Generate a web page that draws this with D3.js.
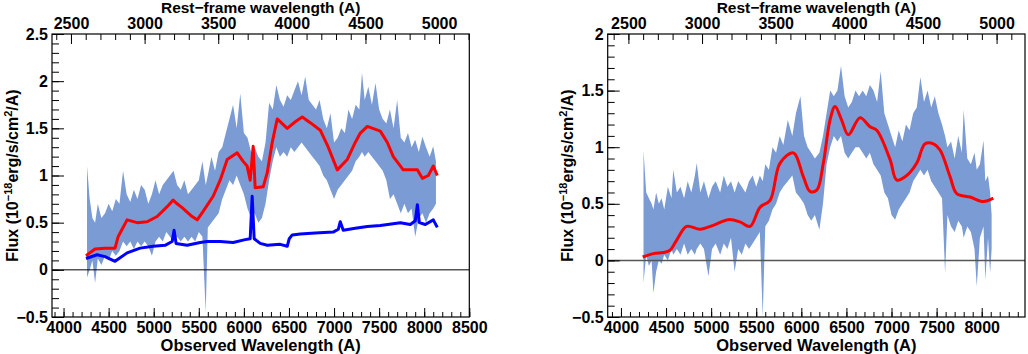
<!DOCTYPE html>
<html>
<head>
<meta charset="utf-8">
<script src="https://cdn.jsdelivr.net/npm/d3@7"></script>
<style>
  body { margin: 0; background: #fff; }
  svg text { font-family: "Liberation Sans", Arial, sans-serif; font-weight: bold; fill: #000; }
</style>
</head>
<body>
<div class="canvas"></div>
<script>
// redshift used for the rest-frame axis on top
const redshift = 0.633;

// left panel: observed spectrum band (wavelength, lower, upper)
const leftWave = [
  4260,4290,4320,4350,4380,4420,4460,4500,4540,4580,
  4620,4660,4700,4740,4780,4820,4860,4900,4940,4980,
  5020,5060,5100,5140,5180,5220,5260,5300,5340,5380,
  5420,5460,5500,5540,5577,5600,5640,5680,5720,5760,
  5800,5840,5880,5920,5960,6000,6040,6080,6120,6160,
  6200,6240,6280,6320,6360,6400,6440,6480,6520,6560,
  6600,6640,6680,6720,6760,6800,6840,6880,6920,6960,
  7000,7040,7080,7120,7160,7200,7240,7280,7310,7340,
  7380,7420,7460,7500,7540,7580,7620,7660,7700,7740,
  7780,7820,7860,7900,7940,7980,8020,8060,8100,8130
];
const leftLo = [
  -0.08,0.0,0.1,-0.14,0.12,0.05,0.15,0.1,0.2,0.15,
  0.2,0.3,0.25,0.3,0.22,0.3,0.25,0.3,0.25,0.15,
  0.3,0.35,0.3,0.4,0.35,0.3,0.35,0.3,0.35,0.3,
  0.35,0.3,0.4,0.35,-0.45,0.45,0.5,0.55,0.6,0.75,
  0.85,0.95,0.9,1.0,0.9,0.8,0.65,0.55,0.6,0.5,
  0.55,0.7,0.95,1.15,1.3,1.2,1.25,1.2,1.3,1.25,
  1.3,1.35,1.3,1.25,1.2,1.15,1.1,1.0,0.95,0.85,
  0.75,0.85,0.9,0.95,1.0,1.05,1.15,1.2,1.25,1.2,
  1.25,1.2,1.15,1.1,1.05,0.95,0.75,0.8,0.7,0.6,
  0.7,0.6,0.65,0.35,0.55,0.6,0.5,0.6,0.65,0.7
];
const leftHi = [
  1.1,0.75,0.55,0.5,0.7,0.55,0.6,0.7,0.62,0.75,
  0.7,1.05,0.8,0.72,0.85,0.75,0.9,0.85,0.7,0.8,
  0.95,0.8,0.9,0.95,1.0,1.05,0.9,0.85,0.95,0.8,
  0.85,0.9,0.95,1.15,0.9,1.0,1.2,1.05,1.25,1.3,
  1.45,1.6,1.75,1.5,1.87,1.45,1.4,1.25,1.3,1.2,
  1.15,1.35,1.77,1.7,1.96,1.8,1.73,1.85,1.8,1.9,
  2.0,1.85,2.05,1.8,1.75,1.7,1.8,1.6,1.5,1.66,
  1.35,1.4,1.5,1.45,1.7,1.6,1.75,1.7,2.09,1.8,
  1.94,1.75,1.98,1.7,1.6,1.55,1.7,1.5,1.8,1.4,
  1.35,1.45,1.3,1.38,1.25,1.41,1.3,1.2,1.31,1.15
];

// left panel: red model fit
const leftFitWave = [
  4249,4349,4460,4571,4605,4705,4816,4926,5038,5149,
  5215,5260,5315,5426,5482,5548,5659,5737,5815,5926,
  5992,6036,6070,6103,6125,6214,6259,6314,6370,6425,
  6481,6570,6647,6736,6847,6936,7036,7147,7235,7291,
  7369,7513,7591,7657,7768,7924,7979,8046,8101,8145
];
const leftFit = [
  0.15,0.22,0.23,0.23,0.35,0.53,0.5,0.51,0.565,0.67,
  0.74,0.7,0.66,0.565,0.53,0.62,0.78,0.95,1.17,1.24,
  1.15,1.10,0.95,1.31,0.87,0.88,1.03,1.35,1.6,1.55,
  1.5,1.57,1.62,1.56,1.48,1.3,1.06,1.17,1.35,1.45,
  1.52,1.47,1.35,1.20,1.06,1.06,0.97,1.0,1.10,1.0
];

// left panel: blue component
const leftCompWave = [
  4249,4372,4460,4571,4705,4849,4993,5126,5204,5226,
  5248,5370,5515,5592,5737,5881,6014,6070,6092,6114,
  6181,6259,6403,6481,6503,6536,6625,6791,6991,7047,
  7069,7102,7235,7369,7513,7735,7846,7901,7924,7946,
  8012,8101,8145
];
const leftComp = [
  0.12,0.16,0.14,0.09,0.18,0.23,0.25,0.26,0.3,0.42,
  0.28,0.26,0.29,0.3,0.3,0.29,0.32,0.33,0.78,0.33,
  0.28,0.26,0.27,0.25,0.33,0.37,0.38,0.39,0.4,0.43,
  0.51,0.42,0.44,0.46,0.47,0.5,0.48,0.52,0.69,0.5,
  0.48,0.53,0.45
];

// right panel: observed spectrum band
const rightWave = [
  4250,4280,4310,4340,4360,4390,4420,4450,4480,4520,
  4560,4580,4620,4660,4700,4740,4780,4820,4840,4880,
  4920,4970,5010,5050,5100,5140,5180,5220,5260,5300,
  5340,5380,5420,5460,5500,5540,5572,5600,5640,5680,
  5720,5760,5800,5850,5900,5940,5990,6030,6070,6110,
  6150,6200,6240,6280,6320,6360,6400,6440,6480,6520,
  6560,6600,6640,6680,6720,6760,6800,6840,6880,6920,
  6960,7000,7040,7080,7120,7160,7200,7240,7280,7320,
  7360,7400,7440,7480,7520,7560,7594,7620,7660,7700,
  7740,7780,7800,7840,7880,7920,7945,7980,8020,8040,
  8070,8093,8110
];
const rightLo = [
  -0.2,0.05,-0.05,0.0,-0.29,-0.1,0.0,-0.03,0.05,0.0,
  0.1,0.05,0.1,0.05,0.15,0.05,0.1,0.05,0.1,0.15,
  0.1,-0.14,0.1,0.15,0.05,0.15,0.1,0.2,-0.1,0.1,
  0.05,0.15,0.1,0.15,0.2,0.25,-0.5,0.3,0.35,0.45,
  0.5,0.6,0.65,0.7,0.75,0.6,0.55,0.5,0.4,0.35,
  0.4,0.27,0.5,0.85,1.0,1.1,1.05,1.1,0.95,0.9,
  0.95,1.0,1.0,0.95,0.9,0.95,0.85,0.8,0.75,0.6,
  0.55,0.4,0.36,0.45,0.5,0.55,0.6,0.7,0.75,0.8,
  0.75,0.8,0.7,0.65,0.6,0.55,-0.11,0.4,0.3,0.25,
  0.35,0.3,0.2,0.3,0.25,0.1,-0.23,0.2,0.3,-0.17,
  0.2,-0.11,0.1
];
const rightHi = [
  0.97,0.6,0.55,0.5,0.45,0.6,0.5,0.55,0.45,0.65,
  0.55,0.8,0.6,0.65,0.55,0.7,0.6,0.75,0.86,0.6,
  0.7,0.55,0.65,0.7,0.6,0.75,0.65,0.7,0.6,0.7,
  0.65,0.6,0.7,0.75,0.65,0.75,0.7,0.85,0.8,1.0,
  0.95,1.1,1.02,1.24,1.1,1.3,1.45,1.1,1.0,0.95,
  0.9,0.95,1.1,1.3,1.5,1.45,1.5,1.72,1.45,1.35,
  1.4,1.5,1.45,1.5,1.45,1.55,1.5,1.4,1.67,1.3,
  1.2,1.1,1.0,1.15,1.05,1.2,1.15,1.3,1.35,1.62,
  1.4,1.5,1.35,1.45,1.3,1.2,1.1,1.0,1.05,0.9,
  1.1,0.95,1.33,0.9,0.85,0.95,0.8,0.85,1.06,0.7,
  0.75,0.6,0.4
];

// right panel: smooth red fit
const rightFitWave = [
  4241,4359,4470,4544,4618,4729,4877,5024,5190,5320,
  5431,5542,5653,5764,5911,6022,6096,6171,6244,6318,
  6374,6447,6521,6651,6762,6836,6984,7058,7169,7280,
  7372,7464,7538,7649,7723,7871,8018,8129
];
const rightFit = [
  0.03,0.06,0.07,0.09,0.18,0.3,0.275,0.31,0.36,0.34,
  0.3,0.47,0.53,0.86,0.95,0.74,0.61,0.62,0.86,1.24,
  1.36,1.24,1.11,1.26,1.18,1.15,0.89,0.71,0.75,0.86,
  1.03,1.03,0.975,0.74,0.59,0.56,0.52,0.55
];

const topTitle = 'Rest\u2212frame wavelength (A)';
const bottomTitle = 'Observed Wavelength (A)';

const svg = d3.select('.canvas').append('svg')
  .attr('width', 1028)
  .attr('height', 354);

const drawPanel = function(cfg) {
  const g = svg.append('g');

  const x = d3.scaleLinear().domain(cfg.xDomain).range([cfg.left, cfg.right]);
  const y = d3.scaleLinear().domain(cfg.yDomain).range([cfg.bottom, cfg.top]);
  // rest-frame scale on the same pixels
  const xRest = d3.scaleLinear()
    .domain(cfg.xDomain.map(d => d / (1 + redshift)))
    .range([cfg.left, cfg.right]);

  const clipId = 'clip' + Math.round(cfg.left);
  g.append('clipPath').attr('id', clipId)
    .append('rect')
      .attr('x', cfg.left).attr('y', cfg.top)
      .attr('width', cfg.right - cfg.left)
      .attr('height', cfg.bottom - cfg.top);

  const plot = g.append('g').attr('clip-path', `url(#${clipId})`);

  // error band of the spectrum
  const band = cfg.wave.map((w, i) => ({w: w, lo: cfg.lo[i], hi: cfg.hi[i]}));
  const area = d3.area()
    .x(d => x(d.w))
    .y0(d => y(d.lo))
    .y1(d => y(d.hi));
  plot.append('path')
    .datum(band)
    .attr('fill', '#7b9bd5')
    .attr('d', area);

  // zero line
  plot.append('line')
    .attr('x1', cfg.left).attr('x2', cfg.right)
    .attr('y1', y(0)).attr('y2', y(0))
    .attr('stroke', cfg.zeroColor)
    .attr('stroke-width', cfg.zeroWidth);

  // other lines
  cfg.lines.forEach(l => {
    const pts = l.wave.map((w, i) => ({w: w, f: l.flux[i]}));
    const line = d3.line()
      .x(d => x(d.w))
      .y(d => y(d.f))
      .curve(l.curve || d3.curveLinear);
    plot.append('path')
      .datum(pts)
      .attr('fill', 'none')
      .attr('stroke', l.color)
      .attr('stroke-width', l.width)
      .attr('stroke-linejoin', 'round')
      .attr('d', line);
  });

  // frame
  g.append('rect')
    .attr('x', cfg.left).attr('y', cfg.top)
    .attr('width', cfg.right - cfg.left)
    .attr('height', cfg.bottom - cfg.top)
    .attr('fill', 'none')
    .attr('stroke', '#000')
    .attr('stroke-width', 1.2);

  const inDom = (v, s) => v >= s.domain()[0] - 1e-6 && v <= s.domain()[1] + 1e-6;
  const clean = sel => {
    sel.select('.domain').remove();
    sel.selectAll('.tick line').attr('stroke', '#000');
    sel.selectAll('text').style('font-size', '16px');
  };

  // bottom axis (observed)
  g.append('g')
    .attr('transform', `translate(0,${cfg.bottom})`)
    .call(d3.axisBottom(x)
      .tickValues(d3.range(3900, 8601, 100).filter(v => inDom(v, x)))
      .tickSize(-5).tickFormat(''))
    .call(clean);
  g.append('g')
    .attr('transform', `translate(0,${cfg.bottom})`)
    .call(d3.axisBottom(x)
      .tickValues(d3.range(4000, 8501, 500).filter(v => inDom(v, x)))
      .tickSize(-9).tickPadding(5).tickFormat(d3.format('d')))
    .call(clean);

  // top axis (rest frame)
  g.append('g')
    .attr('transform', `translate(0,${cfg.top})`)
    .call(d3.axisTop(xRest)
      .tickValues(d3.range(2400, 5301, 100).filter(v => inDom(v, xRest)))
      .tickSize(-6).tickFormat(''))
    .call(clean);
  g.append('g')
    .attr('transform', `translate(0,${cfg.top})`)
    .call(d3.axisTop(xRest)
      .tickValues(d3.range(2500, 5001, 500))
      .tickSize(-10).tickPadding(5.5).tickFormat(d3.format('d')))
    .call(clean);

  // left axis
  const yMinor = d3.range(Math.round(cfg.yDomain[0] * 10), Math.round(cfg.yDomain[1] * 10) + 1).map(v => v / 10);
  const yMajor = d3.range(Math.round(cfg.yDomain[0] * 2), Math.round(cfg.yDomain[1] * 2) + 1).map(v => v / 2);
  g.append('g')
    .attr('transform', `translate(${cfg.left},0)`)
    .call(d3.axisLeft(y).tickValues(yMinor).tickSize(-7).tickFormat(''))
    .call(clean);
  g.append('g')
    .attr('transform', `translate(${cfg.left},0)`)
    .call(d3.axisLeft(y).tickValues(yMajor).tickSize(-12).tickPadding(4).tickFormat(d3.format('')))
    .call(clean);

  // titles
  const midX = (cfg.left + cfg.right) / 2;
  g.append('text')
    .attr('x', midX).attr('y', 13)
    .attr('text-anchor', 'middle')
    .style('font-size', '15.5px')
    .text(topTitle);
  g.append('text')
    .attr('x', midX).attr('y', 351)
    .attr('text-anchor', 'middle')
    .style('font-size', '16.5px')
    .text(bottomTitle);

  const yt = g.append('text')
    .attr('transform', `translate(${cfg.titleX},${(cfg.top + cfg.bottom) / 2}) rotate(-90)`)
    .attr('text-anchor', 'middle')
    .style('font-size', '16px');
  yt.append('tspan').text('Flux (10');
  yt.append('tspan').attr('dy', -6).style('font-size', '11px').text('\u221218');
  yt.append('tspan').attr('dy', 6).text('erg/s/cm');
  yt.append('tspan').attr('dy', -6).style('font-size', '11px').text('2');
  yt.append('tspan').attr('dy', 6).text('/A)');
};

drawPanel({
  left: 52, right: 469.3, top: 34, bottom: 317,
  xDomain: [3872, 8500], yDomain: [-0.5, 2.5],
  titleX: 18,
  wave: leftWave, lo: leftLo, hi: leftHi,
  zeroColor: '#000', zeroWidth: 1,
  lines: [
    {wave: leftFitWave, flux: leftFit, color: '#ff0000', width: 3},
    {wave: leftCompWave, flux: leftComp, color: '#0000ff', width: 3}
  ]
});

drawPanel({
  left: 607.7, right: 1025, top: 34, bottom: 317,
  xDomain: [3853, 8480], yDomain: [-0.5, 2],
  titleX: 573,
  wave: rightWave, lo: rightLo, hi: rightHi,
  zeroColor: '#555', zeroWidth: 1.5,
  lines: [
    {wave: rightFitWave, flux: rightFit, color: '#ff0000', width: 3, curve: d3.curveCatmullRom}
  ]
});
</script>
</body>
</html>
